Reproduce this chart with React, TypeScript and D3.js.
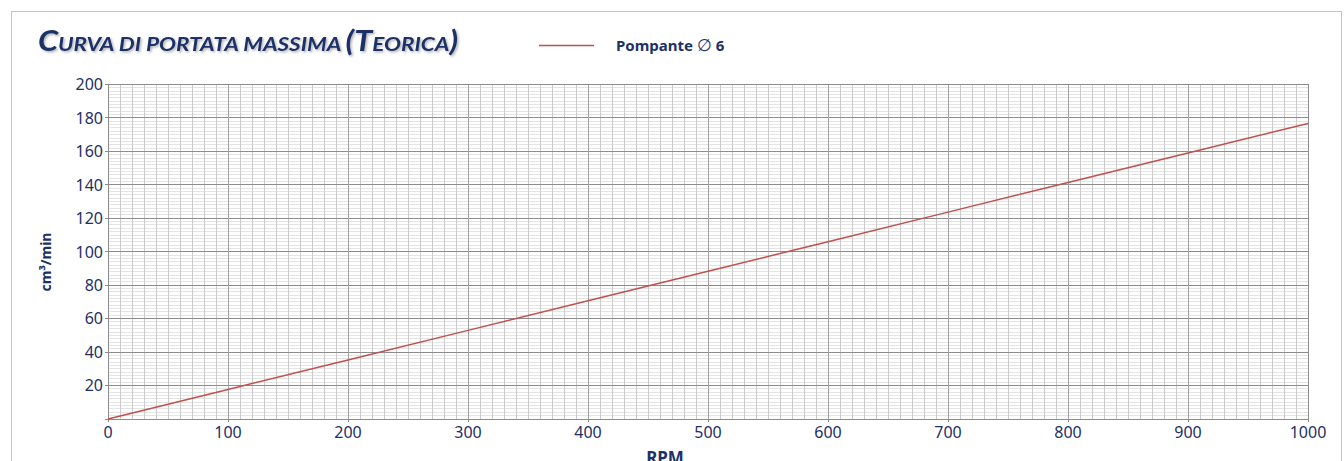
import React from "react";
import * as d3 from "d3";

// data
const rpm = [0, 100, 200, 300, 400, 500, 600, 700, 800, 900, 1000];
const portata = [0, 17.7, 35.3, 53.0, 70.7, 88.4, 106.0, 123.7, 141.4, 159.0, 176.7];
const xTicks = [0, 100, 200, 300, 400, 500, 600, 700, 800, 900, 1000];
const yTicks = [20, 40, 60, 80, 100, 120, 140, 160, 180, 200];
const seriesName = "Pompante ";
const seriesSize = " 6";

const W = 1344;
const H = 461;
const navy = "#1c3166";
const red = "#c0504d";
const font = "'Noto Sans', 'Open Sans', sans-serif";

const App = () => {
  const x = d3.scaleLinear().domain([0, 1000]).range([108, 1308]);
  const y = d3.scaleLinear().domain([0, 200]).range([419, 84.5]);

  const minorY = d3.range(0, 201, 2);
  const minorX = d3.range(0, 1001, 10);

  const line = d3
    .line<number>()
    .x((_, i) => x(rpm[i]))
    .y((d) => y(d));

  const [x0, x1] = x.range();
  const [y0, y1] = y.range();

  return (
    <svg
      width={W}
      height={H}
      style={{ position: "absolute", left: 0, top: 0, background: "#fff" }}
    >
      <defs>
        <filter id="shadow" x="-5%" y="-20%" width="110%" height="160%">
          <feDropShadow dx="1.5" dy="1.5" stdDeviation="1" floodColor="#000" floodOpacity="0.3" />
        </filter>
      </defs>
      <rect x={11.5} y={11.5} width={1330} height={470} fill="#fff" stroke="#c4c4c4" />

      {/* title */}
      <text
        x={38}
        y={51}
        fill={navy}
        fontFamily="Lato, 'Noto Sans', sans-serif"
        fontWeight="bold"
        fontStyle="italic"
        filter="url(#shadow)"
        textLength={420}
        lengthAdjust="spacingAndGlyphs"
      >
        <tspan fontSize={28}>C</tspan>
        <tspan fontSize={19.5}>URVA DI PORTATA MASSIMA </tspan>
        <tspan fontSize={28}>(T</tspan>
        <tspan fontSize={19.5}>EORICA</tspan>
        <tspan fontSize={28}>)</tspan>
      </text>

      {/* legend */}
      <line x1={539} x2={594} y1={45.5} y2={45.5} stroke={red} strokeWidth={1.5} />
      <text x={616} y={51} fill={navy} fontFamily={font} fontSize={15} fontWeight="bold">
        {seriesName}
        <tspan fontWeight="normal" fontSize={17}>∅</tspan>
        {seriesSize}
      </text>

      {/* grid */}
      <g shapeRendering="crispEdges">
        {minorY.map((v) => (
          <line key={"hy" + v} x1={x0} x2={x1} y1={y(v)} y2={y(v)} stroke="#e4e4e4" />
        ))}
        {minorX.map((v) => (
          <line key={"vx" + v} x1={x(v)} x2={x(v)} y1={y0} y2={y1} stroke="#cbcbcb" />
        ))}
        {yTicks.map((v) => (
          <line key={"my" + v} x1={x0} x2={x1} y1={y(v)} y2={y(v)} stroke="#8c8c8c" />
        ))}
        {xTicks.map((v) => (
          <line key={"mx" + v} x1={x(v)} x2={x(v)} y1={y0} y2={y1} stroke="#a0a0a0" />
        ))}
        <rect x={x0} y={y1} width={x1 - x0} height={y0 - y1} fill="none" stroke="#8c8c8c" />
        {[0, ...yTicks].map((v) => (
          <line key={"ty" + v} x1={x0 - 3} x2={x0} y1={y(v)} y2={y(v)} stroke="#8c8c8c" />
        ))}
        {xTicks.map((v) => (
          <line key={"tx" + v} x1={x(v)} x2={x(v)} y1={y0} y2={y0 + 3} stroke="#8c8c8c" />
        ))}
      </g>

      {/* series */}
      <path d={line(portata) ?? ""} fill="none" stroke={red} strokeWidth={1.5} />

      {/* tick labels */}
      <g fill={navy} fontFamily={font} fontSize={16}>
        {yTicks.map((v) => (
          <text key={"ly" + v} x={103} y={y(v)} dy="0.36em" textAnchor="end">
            {v}
          </text>
        ))}
        {xTicks.map((v) => (
          <text key={"lx" + v} x={x(v)} y={438} textAnchor="middle">
            {v}
          </text>
        ))}
      </g>

      {/* axis titles */}
      <text
        transform={`translate(51,262) rotate(-90)`}
        textAnchor="middle"
        fill={navy}
        fontFamily={font}
        fontWeight="bold"
        fontSize={14}
      >
        cm³/min
      </text>
      <text x={665} y={464} textAnchor="middle" fill={navy} fontFamily={font} fontWeight="bold" fontSize={17}>
        RPM
      </text>
    </svg>
  );
};

export default App;
